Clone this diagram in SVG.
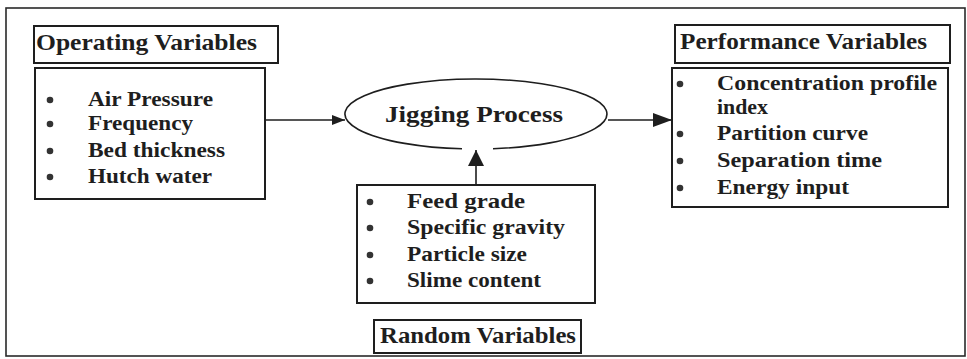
<svg xmlns="http://www.w3.org/2000/svg" width="967" height="359" viewBox="0 0 967 359">
<style>
.frame{fill:none;stroke:#2a2a2a;stroke-width:1.6}
.box{fill:#fff;stroke:#1e1e1e;stroke-width:2}
.t{font-family:"Liberation Serif","Times New Roman",serif;font-weight:bold;fill:#1e1e1e;font-size:22px}
.h{font-size:23px}
.b{fill:#333}
.c{stroke:#1e1e1e;stroke-width:1.6;fill:none}
</style>
<defs>
<marker id="a1" markerUnits="userSpaceOnUse" markerWidth="14" markerHeight="12" refX="13" refY="6" orient="auto"><path d="M0,1 L13,6 L0,11 z" fill="#1e1e1e"/></marker>
<marker id="a2" markerUnits="userSpaceOnUse" markerWidth="20" markerHeight="16" refX="19" refY="8" orient="auto"><path d="M0,1 L19,8 L0,15 z" fill="#1e1e1e"/></marker>
<marker id="a3" markerUnits="userSpaceOnUse" markerWidth="18" markerHeight="18" refX="16" refY="9" orient="auto"><path d="M0,1 L16,9 L0,17 z" fill="#1e1e1e"/></marker>
</defs>
<rect x="6" y="8" width="959" height="348" class="frame"/>

<g id="operating-title">
<rect x="34" y="26" width="244" height="37" class="box"/>
<text x="36" y="50" class="t h" textLength="221" lengthAdjust="spacingAndGlyphs">Operating Variables</text>
</g>
<g id="operating-list">
<rect x="35" y="68" width="230" height="131" class="box"/>
<circle cx="50" cy="100" r="3.3" class="b"/>
<circle cx="50" cy="124" r="3.3" class="b"/>
<circle cx="50" cy="151" r="3.3" class="b"/>
<circle cx="50" cy="177" r="3.3" class="b"/>
<text x="88" y="106" class="t" textLength="125" lengthAdjust="spacingAndGlyphs">Air Pressure</text>
<text x="88" y="130" class="t" textLength="105" lengthAdjust="spacingAndGlyphs">Frequency</text>
<text x="88" y="157" class="t" textLength="137" lengthAdjust="spacingAndGlyphs">Bed thickness</text>
<text x="88" y="183" class="t" textLength="124" lengthAdjust="spacingAndGlyphs">Hutch water</text>
</g>

<g id="jigging-process">
<path d="M493,148.7 A131,35 0 1 0 462,148.8" class="c"/>
<text x="385" y="122" class="t h" textLength="178" lengthAdjust="spacingAndGlyphs">Jigging Process</text>
</g>

<g id="performance-title">
<rect x="675" y="25" width="275" height="38" class="box"/>
<text x="680" y="49" class="t h" textLength="247" lengthAdjust="spacingAndGlyphs">Performance Variables</text>
</g>
<g id="performance-list">
<rect x="672" y="68" width="276" height="139" class="box"/>
<circle cx="680" cy="84" r="3.3" class="b"/>
<circle cx="680" cy="134" r="3.3" class="b"/>
<circle cx="680" cy="161" r="3.3" class="b"/>
<circle cx="680" cy="188" r="3.3" class="b"/>
<text x="717" y="90" class="t" textLength="220" lengthAdjust="spacingAndGlyphs">Concentration profile</text>
<text x="717" y="114" class="t" textLength="51" lengthAdjust="spacingAndGlyphs">index</text>
<text x="717" y="140" class="t" textLength="151" lengthAdjust="spacingAndGlyphs">Partition curve</text>
<text x="717" y="167" class="t" textLength="165" lengthAdjust="spacingAndGlyphs">Separation time</text>
<text x="717" y="194" class="t" textLength="132" lengthAdjust="spacingAndGlyphs">Energy input</text>
</g>

<g id="random-list">
<rect x="357" y="185" width="238" height="118" class="box"/>
<circle cx="370" cy="202" r="3.3" class="b"/>
<circle cx="370" cy="228" r="3.3" class="b"/>
<circle cx="370" cy="255" r="3.3" class="b"/>
<circle cx="370" cy="281" r="3.3" class="b"/>
<text x="407" y="208" class="t" textLength="118" lengthAdjust="spacingAndGlyphs">Feed grade</text>
<text x="407" y="234" class="t" textLength="158" lengthAdjust="spacingAndGlyphs">Specific gravity</text>
<text x="407" y="261" class="t" textLength="120" lengthAdjust="spacingAndGlyphs">Particle size</text>
<text x="407" y="287" class="t" textLength="134" lengthAdjust="spacingAndGlyphs">Slime content</text>
</g>
<g id="random-title">
<rect x="374" y="320" width="207" height="33" class="box"/>
<text x="380" y="343" class="t h" textLength="196" lengthAdjust="spacingAndGlyphs">Random Variables</text>
</g>

<g id="connectors">
<line x1="265" y1="120" x2="345" y2="120" class="c" marker-end="url(#a1)"/>
<line x1="608" y1="120" x2="672" y2="120" class="c" marker-end="url(#a2)"/>
<line x1="476" y1="185" x2="476" y2="150" class="c" stroke-width="2.2" marker-end="url(#a3)"/>
</g>
</svg>
